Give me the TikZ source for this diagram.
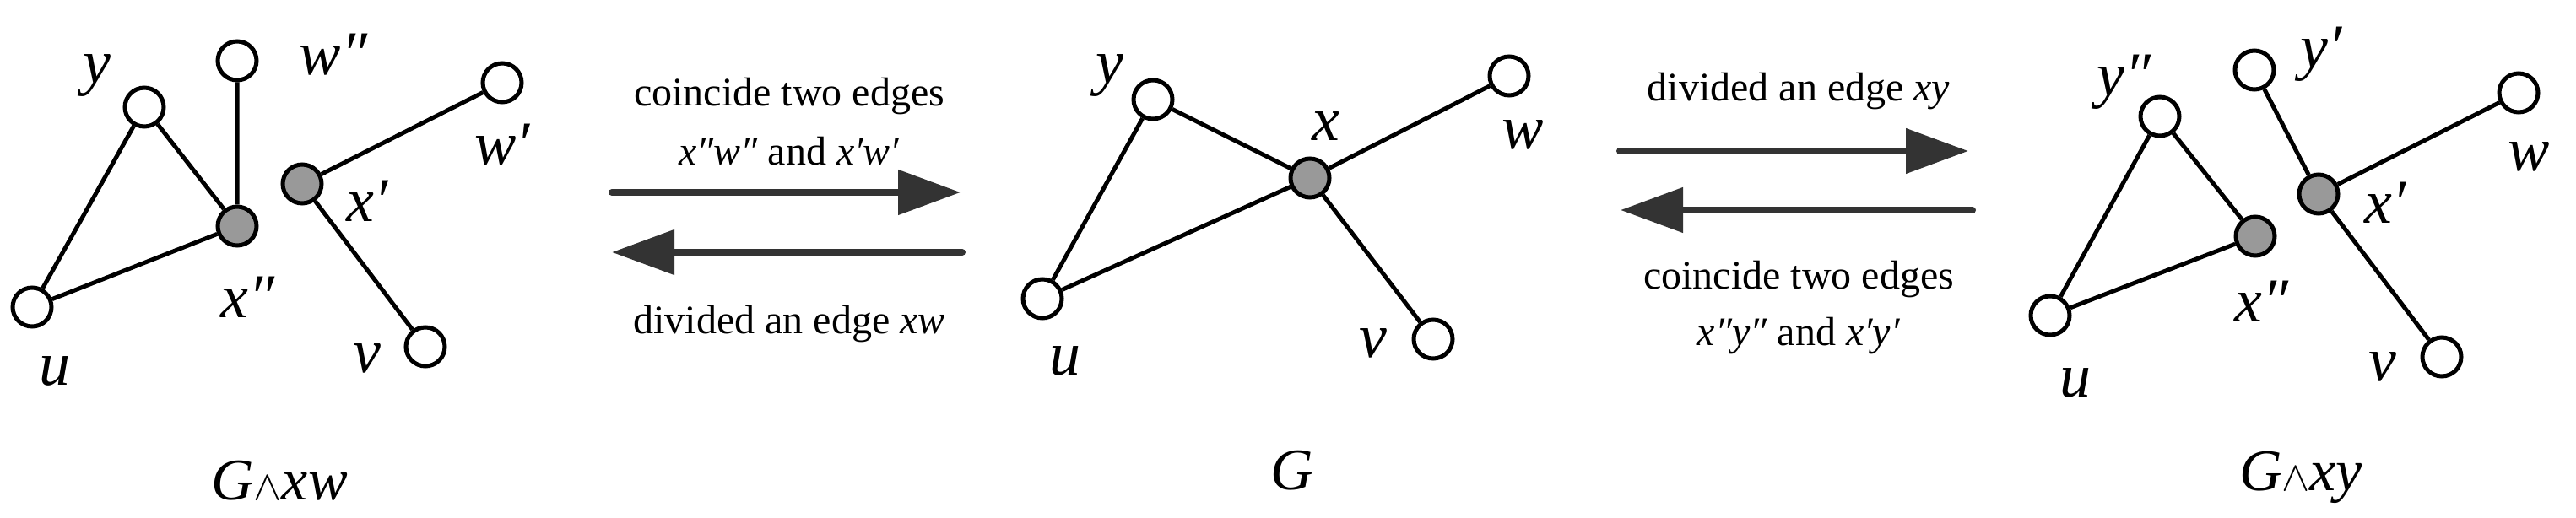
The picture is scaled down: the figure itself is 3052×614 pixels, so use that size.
\documentclass[tikz,border=0pt]{standalone}
\usepackage{fontspec}
\setmainfont{Liberation Serif}
\usetikzlibrary{arrows.meta}
\begin{document}
\begin{tikzpicture}[x=0.5pt,y=-0.5pt,
  vtx/.style={circle,draw,line width=2.5pt,minimum size=23pt,inner sep=0pt,fill=white},
  gvtx/.style={vtx,fill=black!40},
  edge/.style={line width=2.5pt},
  lab/.style={font=\fontsize{37}{37}\selectfont\itshape,inner sep=0pt},
  captext/.style={font=\fontsize{35}{35}\selectfont,inner sep=0pt},
  atext/.style={font=\fontsize{24}{26}\selectfont,inner sep=0pt,align=center},
  bigarrow/.style={line width=4pt,color=black!80,line cap=round,-{Triangle[length=37pt,width=26pt]}}]
\useasboundingbox (0,0) rectangle (3052,614);
% left graph
\node[vtx] (lu) at (38,364) {};
\node[vtx] (ly) at (171,127) {};
\node[gvtx] (lx2) at (281,268) {};
\node[vtx] (lw2) at (281,72) {};
\node[gvtx] (lx1) at (358,218) {};
\node[vtx] (lw1) at (595,98) {};
\node[vtx] (lv) at (504,411) {};
\draw[edge] (lu)--(ly) (ly)--(lx2) (lu)--(lx2) (lx2)--(lw2) (lx1)--(lw1) (lx1)--(lv);
\node[lab] (tly) at (115,90) {y};
\node[lab] (tlw2) at (395,65) {w″};
\node[lab] (tlw1) at (595,172) {w′};
\node[lab] (tlx1) at (435,238) {x′};
\node[lab] (tlx2) at (293,352) {x″};
\node[lab] (tlu) at (65,440) {u};
\node[lab] (tlv) at (435,425) {v};
\node[captext] (capl) at (331,570) {\textit{G}$\wedge$\textit{xw}};
% left arrows
\node[atext] (t1) at (935,114) {coincide two edges};
\node[atext] (t2) at (935,179) {\textit{x″w″} and \textit{x′w′}};
\coordinate (a1s) at (725,228); \coordinate (a1e) at (1138,228);
\draw[bigarrow] (a1s) -- (a1e);
\coordinate (a2s) at (1140,299); \coordinate (a2e) at (725,299);
\draw[bigarrow] (a2s) -- (a2e);
\node[atext] (t3) at (935,384) {divided an edge \textit{xw}};
% middle graph
\node[vtx] (mu) at (1235,354) {};
\node[vtx] (my) at (1366,118) {};
\node[gvtx] (mx) at (1552,211) {};
\node[vtx] (mw) at (1788,90) {};
\node[vtx] (mv) at (1698,402) {};
\draw[edge] (mu)--(my) (my)--(mx) (mu)--(mx) (mx)--(mw) (mx)--(mv);
\node[lab] (tmy) at (1315,90) {y};
\node[lab] (tmx) at (1571,150) {x};
\node[lab] (tmw) at (1804,160) {w};
\node[lab] (tmu) at (1262,428) {u};
\node[lab] (tmv) at (1627,407) {v};
\node[captext] (capm) at (1531,558) {\textit{G}};
% right arrows
\node[atext] (t4) at (2131,108) {divided an edge \textit{xy}};
\coordinate (b1s) at (1919,179); \coordinate (b1e) at (2332,179);
\draw[bigarrow] (b1s) -- (b1e);
\coordinate (b2s) at (2337,249); \coordinate (b2e) at (1920,249);
\draw[bigarrow] (b2s) -- (b2e);
\node[atext] (t5) at (2131,331) {coincide two edges};
\node[atext] (t6) at (2131,398) {\textit{x″y″} and \textit{x′y′}};
% right graph
\node[vtx] (ru) at (2429,374) {};
\node[vtx] (ry2) at (2559,138) {};
\node[gvtx] (rx2) at (2672,280) {};
\node[vtx] (ry1) at (2671,83) {};
\node[gvtx] (rx1) at (2747,230) {};
\node[vtx] (rw) at (2984,110) {};
\node[vtx] (rv) at (2893,423) {};
\draw[edge] (ru)--(ry2) (ry2)--(rx2) (ru)--(rx2) (ry1)--(rx1) (rx1)--(rw) (rx1)--(rv);
\node[lab] (try2) at (2516,97) {y″};
\node[lab] (try1) at (2750,64) {y′};
\node[lab] (trw) at (2996,186) {w};
\node[lab] (trx1) at (2826,240) {x′};
\node[lab] (trx2) at (2679,357) {x″};
\node[lab] (tru) at (2459,454) {u};
\node[lab] (trv) at (2823,435) {v};
\node[captext] (capr) at (2726,566) {\textit{G}$\wedge$\textit{xy}};
\end{tikzpicture}
\end{document}
